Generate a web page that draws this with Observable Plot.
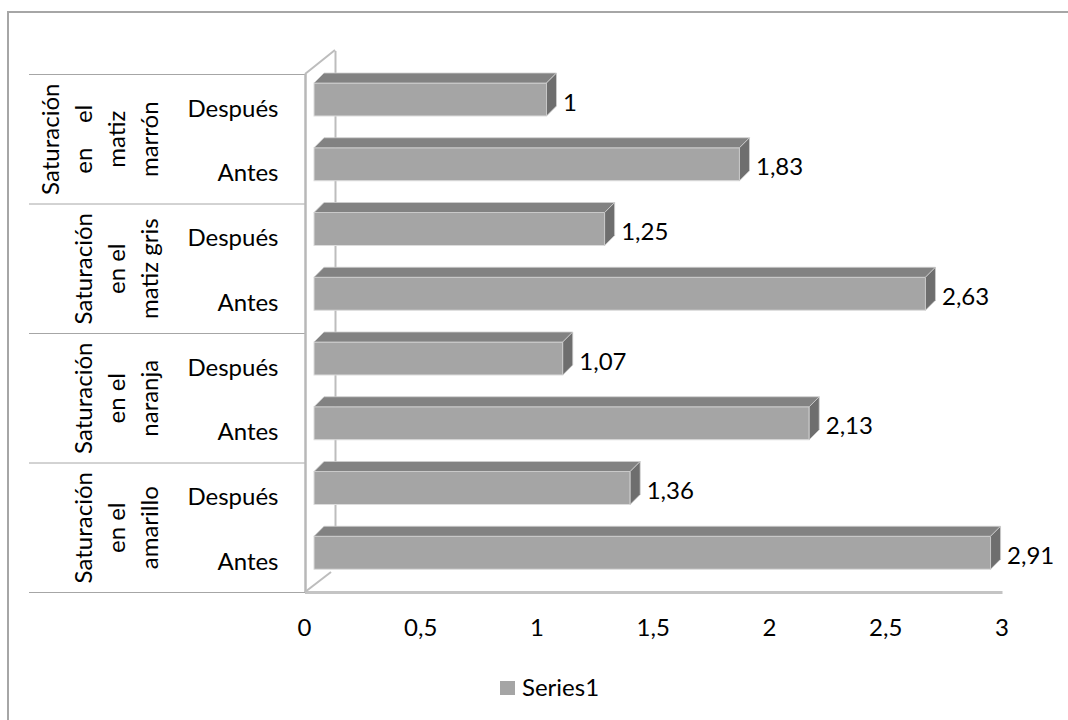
<!DOCTYPE html>
<html>
<head>
<meta charset="utf-8">
<script src="https://cdn.jsdelivr.net/npm/d3@7"></script>
<script src="https://cdn.jsdelivr.net/npm/@observablehq/plot@0.6"></script>
<style>
  body { margin: 0; background: #fff; font-family: Lato, "Open Sans", sans-serif; }
  #wrap { position: relative; width: 1068px; height: 720px; overflow: hidden; }
  #border { position: absolute; left: 7px; top: 11px; width: 1200px; height: 900px;
            border-left: 2px solid #a6a6a6; border-top: 2px solid #a6a6a6; }
  #chart { position: relative; }
  #legend { position: relative; height: 50px; }
  #legend .sw { position: absolute; left: 500px; top: 11px; width: 15px; height: 14px; background: #a5a5a5; }
  #legend .lb { position: absolute; left: 522px; top: 3px; font-size: 24px; line-height: 28px; color: #000; font-family: Lato, sans-serif; }
</style>
</head>
<body>
<div id="wrap">
  <div id="border"></div>
  <div id="chart"></div>
  <div id="legend"><span class="sw"></span><span class="lb">Series1</span></div>
</div>
<script>
// ---- data (top to bottom as drawn) ----
const groupLabels = [
  "Saturación\nen\u00a0\u00a0\u00a0\u00a0el\nmatiz\nmarrón",
  "Saturación\nen el\nmatiz gris",
  "Saturación\nen el\nnaranja",
  "Saturación\nen el\namarillo"
];
const subLabels = ["Después", "Antes"];
const values = [1, 1.83, 1.25, 2.63, 1.07, 2.13, 1.36, 2.91];
const tickValues = [0, 0.5, 1, 1.5, 2, 2.5, 3];
const tickLabels = ["0", "0,5", "1", "1,5", "2", "2,5", "3"];
const seriesName = "Series1";

// ---- derived tables ----
const rows = values.map((v, i) => ({
  i,
  value: v,
  sub: subLabels[i % 2],
  label: String(v).replace(".", ",")
}));
const groups = groupLabels.map((label, g) => ({g, label}));
const edges = d3.range(groupLabels.length + 1).map(g => g * subLabels.length);
const nSlots = values.length;

const FS = 24;
const plot = Plot.plot({
  width: 1068,
  height: 670,
  marginLeft: 38,
  marginRight: 754,
  marginTop: 74,
  marginBottom: 78,
  x: {domain: [0, 3], range: [314, 1011.5], axis: null},
  y: {domain: [0, nSlots], range: [74, 592], axis: null},
  style: {background: "transparent", fontFamily: "Lato, sans-serif", fontSize: FS + "px", color: "#000", overflow: "visible"},
  marks: [
    // category table separators (span the label area up to the front wall)
    Plot.ruleY(edges, {y: d => d, dx: -9, stroke: "#a6a6a6", strokeWidth: 1}),
    // back wall edge
    Plot.ruleX([0], {x: d => d, y1: 0, y2: nSlots, dx: 21, dy: -23, stroke: "#bdbdbd", strokeWidth: 2}),
    // front wall edge
    Plot.ruleX([0], {x: d => d, y1: 0, y2: nSlots, dx: -9, stroke: "#b8b8b8", strokeWidth: 2.5}),
    // floor front edge
    Plot.ruleY([nSlots], {y: d => d, x1: 0, x2: 3, dx: -9, stroke: "#c4c4c4", strokeWidth: 3}),
    // bar front faces
    Plot.rect(rows, {x1: 0, x2: "value", y1: "i", y2: d => d.i + 1, insetTop: 9, insetBottom: 22.75,
      fill: "#a5a5a5", stroke: "#dcdcdc", strokeWidth: 1}),
    // data labels
    Plot.text(rows, {x: "value", y: d => d.i + 0.5, text: "label", dx: 16, dy: -4, textAnchor: "start", fontSize: FS, fill: "#000"}),
    // sub category labels
    Plot.text(rows, {x: 0, y: d => d.i + 0.5, text: "sub", dx: -36, dy: 2, textAnchor: "end", fontSize: FS, fill: "#000"}),
    // group labels (rotated)
    Plot.text(groups, {x: 0, y: d => d.g * 2 + 1, text: "label", rotate: -90, lineAnchor: "bottom",
      lineHeight: 1.375, textAnchor: "middle", dx: -157, fontSize: FS, fill: "#000"}),
    // value axis tick labels
    Plot.text(tickValues, {x: d => d, y: nSlots, text: (d, k) => tickLabels[k], dx: -10, dy: 36, fontSize: FS, fill: "#000"})
  ]
});
document.getElementById("chart").appendChild(plot);
document.querySelector("#legend .lb").textContent = seriesName;

// ---- 3D faces drawn with the plot's own scales ----
const sx = plot.scale("x"), sy = plot.scale("y");
const svg = d3.select(plot);
const g = svg.append("g");
const D = 10;
const poly = pts => pts.map(p => p.join(",")).join(" ");
rows.forEach(r => {
  const x0 = sx.apply(0), x1 = sx.apply(r.value);
  const yt = sy.apply(r.i) + 9, yb = sy.apply(r.i + 1) - 22.75;
  g.append("polygon").attr("points", poly([[x0, yt], [x0 + D, yt - D], [x1 + D, yt - D], [x1, yt]]))
    .attr("fill", "#828282").attr("stroke", "#cfcfcf").attr("stroke-width", 0.8);
  g.append("polygon").attr("points", poly([[x1, yt], [x1 + D, yt - D], [x1 + D, yb - D], [x1, yb]]))
    .attr("fill", "#6e6e6e").attr("stroke", "#cfcfcf").attr("stroke-width", 0.8);
});
// wall corner diagonals
const wx = sx.apply(0);
const w = svg.append("g").attr("stroke", "#bdbdbd").attr("stroke-width", 2);
w.append("line").attr("x1", wx - 9).attr("y1", sy.apply(0)).attr("x2", wx + 21).attr("y2", sy.apply(0) - 24);
w.append("line").attr("x1", wx - 9).attr("y1", sy.apply(nSlots)).attr("x2", wx + 17).attr("y2", sy.apply(nSlots) - 20);
</script>
</body>
</html>
